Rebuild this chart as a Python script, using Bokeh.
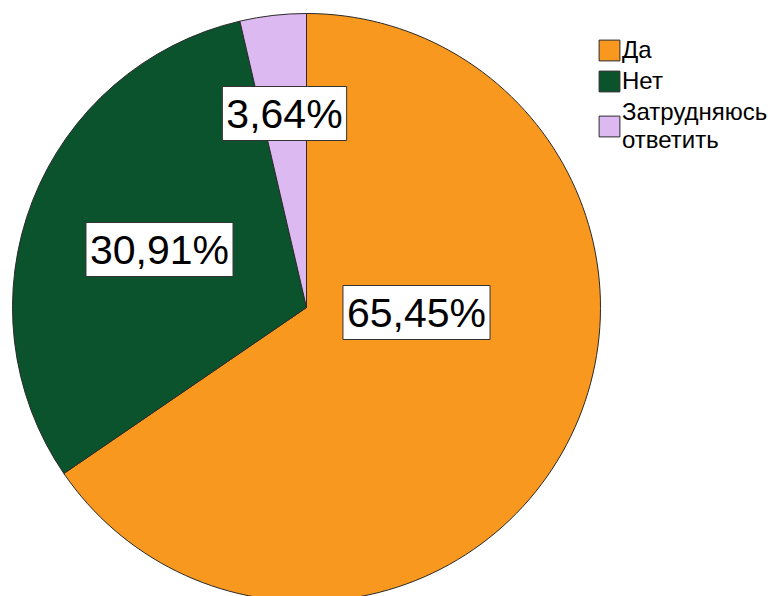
from math import pi
from bokeh.plotting import figure
from bokeh.models import ColumnDataSource, Range1d, Label, Legend, LegendItem
from bokeh.embed import file_html
from bokeh.resources import INLINE

categories = ["Да", "Нет", "Затрудняюсь\nответить"]
percents = [65.45, 30.91, 3.64]
colors = ["#F8981E", "#0B532C", "#DCB9F1"]

# label centres (layout, pixel offsets from pie centre; y up)
label_pos = [(110, -5), (-147, 58), (-22, 194)]

W, H = 774, 596
cx, cy = 306, 307   # pie centre inside frame (px from left / from top)
R = 294

p = figure(width=W, height=H, output_backend="svg", toolbar_location=None,
           x_range=Range1d(-cx, W - cx), y_range=Range1d(cy - H, cy),
           min_border=0, outline_line_color=None)
p.axis.visible = False
p.grid.visible = False
p.background_fill_color = "white"
p.border_fill_color = "white"

total = sum(percents)
starts, ends = [], []
cum = 0.0
for v in percents:
    starts.append(pi / 2 - cum / total * 2 * pi)
    cum += v
    ends.append(pi / 2 - cum / total * 2 * pi)

src = ColumnDataSource(dict(cat=categories, val=percents, color=colors,
                            start=starts, end=ends))
r = p.wedge(x=0, y=0, radius=R, start_angle="start", end_angle="end",
            direction="clock", fill_color="color", line_color="#2a2a2a",
            line_width=1, source=src)

for v, (lx, ly) in zip(percents, label_pos):
    txt = f"{v:.2f}".replace(".", ",") + "%"
    p.add_layout(Label(x=lx, y=ly, text=txt, text_align="center",
                       text_baseline="middle", text_font="Liberation Sans",
                       text_font_size="41px", text_color="black",
                       background_fill_color="white",
                       border_line_color="#333333", border_line_width=1,
                       padding=4))

items = [LegendItem(label=c, renderers=[r], index=i) for i, c in enumerate(categories)]
legend = Legend(items=items, location=(596, 442), orientation="vertical",
                glyph_width=26, glyph_height=26, label_height=26,
                label_text_font="Liberation Sans", label_text_font_size="24px",
                label_text_line_height=0.88, label_text_color="black",
                label_standoff=0, spacing=3, padding=0, margin=0,
                border_line_color=None, background_fill_alpha=0)
p.add_layout(legend)

open("out.html", "w").write(file_html(p, INLINE))
